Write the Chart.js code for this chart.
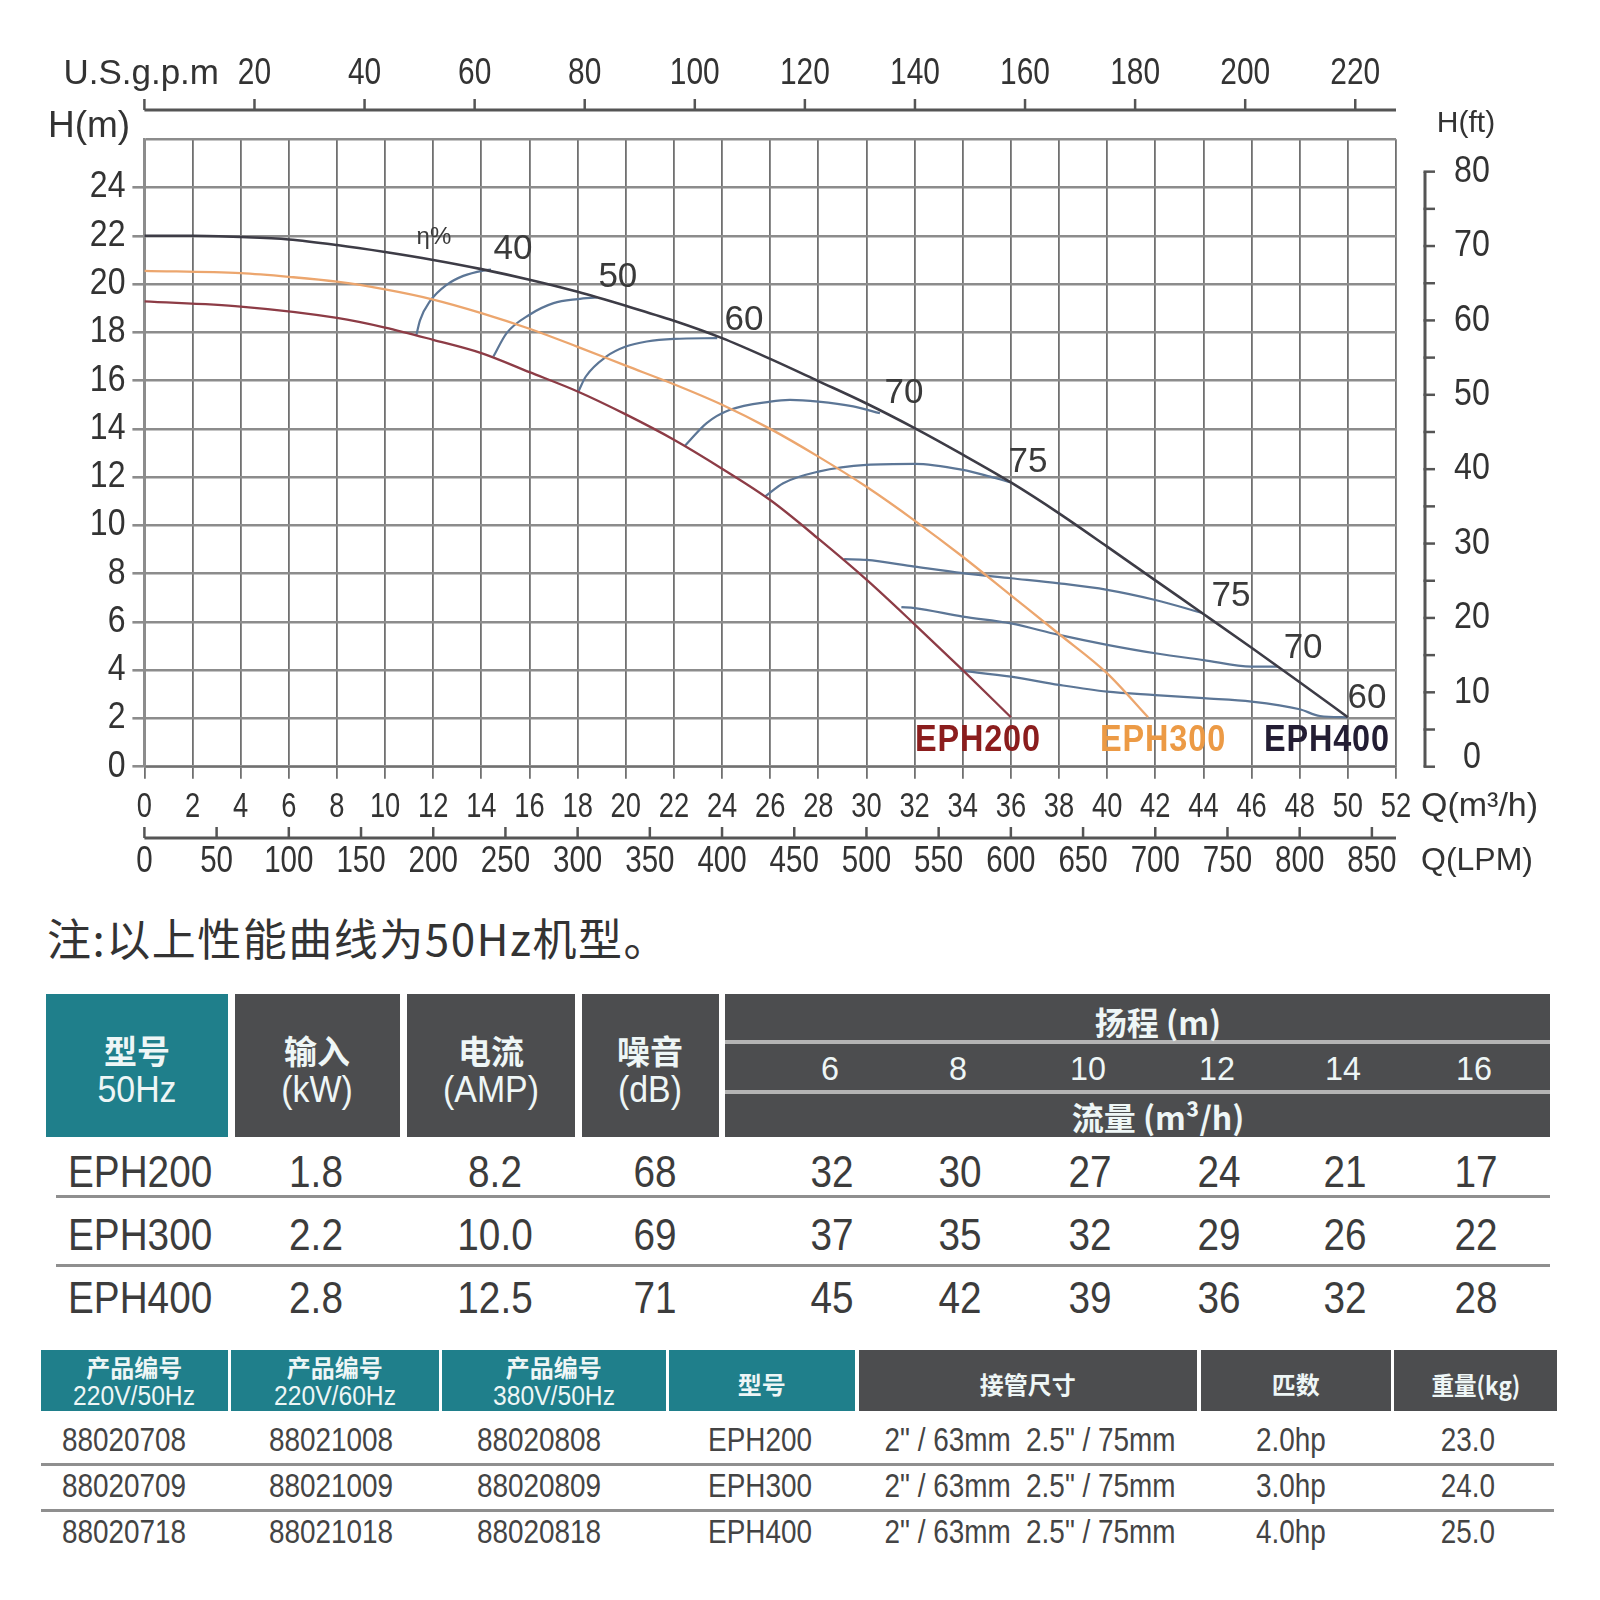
<!DOCTYPE html>
<html>
<head>
<meta charset="utf-8">
<script src="https://cdn.jsdelivr.net/npm/chart.js@4.4.1/dist/chart.umd.min.js"></script>
<style>
  body { margin: 0; background: #fff; }
  #wrap { position: relative; width: 1600px; height: 1600px; overflow: hidden; }
  #pump { position: absolute; left: 0; top: 0; }
  .t { position: absolute; white-space: pre; line-height: 1; }
  .c { position: absolute; }
</style>
</head>
<body>
<div id="wrap"><canvas id="pump" width="1600" height="890"></canvas></div>
<script>
// ---- curve data, Q in m3/h, H in m
const eph400Q = [0, 2, 4, 6, 8, 10, 12, 14, 16, 18, 20, 22, 24, 26, 28, 30, 32, 34, 36, 38, 40, 42, 44, 46, 48, 50];
const eph400H = [22.0, 22.0, 21.95, 21.85, 21.62, 21.33, 21.0, 20.62, 20.18, 19.68, 19.1, 18.48, 17.76, 16.9, 15.98, 15.05, 14.03, 12.93, 11.78, 10.5, 9.12, 7.72, 6.33, 4.93, 3.5, 2.05];
const eph300Q = [0, 4, 6, 8, 10, 12, 14, 16, 18, 20, 22, 24, 26, 28, 30, 32, 34, 36, 38, 40, 41.7];
const eph300H = [20.55, 20.45, 20.3, 20.1, 19.78, 19.36, 18.8, 18.15, 17.4, 16.62, 15.85, 15.0, 14.0, 12.85, 11.6, 10.2, 8.7, 7.1, 5.5, 3.87, 2.05];
const eph200Q = [0, 4, 8, 10, 12, 14, 16, 18, 20, 22, 24, 26, 28, 30, 32, 34, 36];
const eph200H = [19.28, 19.07, 18.6, 18.2, 17.69, 17.14, 16.35, 15.55, 14.6, 13.55, 12.35, 11.05, 9.45, 7.75, 5.9, 4.0, 2.05];

// efficiency lines
const eff40Q = [11.3, 11.45, 11.86, 12.56, 13.25, 14.08, 14.4];
const eff40H = [17.89, 18.5, 19.28, 19.97, 20.34, 20.56, 20.6];
const eff50Q = [14.5, 15.05, 16, 17, 18, 18.8];
const eff50H = [17.0, 17.97, 18.73, 19.21, 19.38, 19.45];
const eff60Q = [18.03, 18.34, 19.2, 20, 20.87, 22, 23.8];
const eff60H = [15.55, 16.17, 17.0, 17.41, 17.62, 17.73, 17.76];
const eff70Q = [22.46, 23.36, 24.33, 26, 26.82, 28, 29.45, 30.56];
const eff70H = [13.3, 14.24, 14.79, 15.13, 15.2, 15.13, 14.93, 14.65];
const eff75Q = [25.78, 26.54, 28, 30, 32, 34, 35.14, 36];
const eff75H = [11.19, 11.75, 12.23, 12.51, 12.55, 12.3, 12.02, 11.78];
const eff75bQ = [29.07, 30, 32, 34, 36, 38, 40, 42, 44];
const eff75bH = [8.6, 8.57, 8.29, 8.02, 7.81, 7.6, 7.33, 6.91, 6.36];
const eff70bQ = [31.45, 32, 34, 36, 38, 40, 42, 44, 46, 47.1];
const eff70bH = [6.61, 6.57, 6.22, 5.94, 5.46, 5.05, 4.7, 4.42, 4.15, 4.15];
const eff60bQ = [33.91, 36, 38, 40, 42, 44, 46, 48, 48.84, 50];
const eff60bH = [3.98, 3.73, 3.39, 3.11, 2.97, 2.84, 2.7, 2.38, 2.1, 2.05];

// labels on the curves: [text, Q, H]
const effLabels = [['η%', 12.03, 21.95], ['40', 15.31, 21.42], ['50', 19.67, 20.3], ['60', 24.91, 18.48],
  ['70', 31.56, 15.49], ['75', 36.71, 12.63], ['75', 45.14, 7.04], ['70', 48.14, 4.92], ['60', 50.79, 2.85]];
const modelLabels = [['EPH200', 34.63, 1.06, '#8b1d1d'], ['EPH300', 42.32, 1.06, '#ec9a45'], ['EPH400', 49.13, 1.06, '#231d33']];

// ---- tick labels
const flowTicksM3h = [0, 2, 4, 6, 8, 10, 12, 14, 16, 18, 20, 22, 24, 26, 28, 30, 32, 34, 36, 38, 40, 42, 44, 46, 48, 50, 52];
const headTicksM = [0, 2, 4, 6, 8, 10, 12, 14, 16, 18, 20, 22, 24, 26];
const gpmTicks = [0, 20, 40, 60, 80, 100, 120, 140, 160, 180, 200, 220];
const lpmTicks = [0, 50, 100, 150, 200, 250, 300, 350, 400, 450, 500, 550, 600, 650, 700, 750, 800, 850];
const ftTicks = [0, 5, 10, 15, 20, 25, 30, 35, 40, 45, 50, 55, 60, 65, 70, 75, 80];

// ---- table data
const models = ['EPH200', 'EPH300', 'EPH400'];
const inputKw = ['1.8', '2.2', '2.8'];
const currentAmp = ['8.2', '10.0', '12.5'];
const noiseDb = ['68', '69', '71'];
const headPoints = ['6', '8', '10', '12', '14', '16'];
const flowEPH200 = ['32', '30', '27', '24', '21', '17'];
const flowEPH300 = ['37', '35', '32', '29', '26', '22'];
const flowEPH400 = ['45', '42', '39', '36', '32', '28'];
const code220v50 = ['88020708', '88020709', '88020718'];
const code220v60 = ['88021008', '88021009', '88021018'];
const code380v50 = ['88020808', '88020809', '88020818'];
const pipeSize = ['2" / 63mm  2.5" / 75mm', '2" / 63mm  2.5" / 75mm', '2" / 63mm  2.5" / 75mm'];
const horsePower = ['2.0hp', '3.0hp', '4.0hp'];
const weightKg = ['23.0', '24.0', '25.0'];

const SANS = '"Liberation Sans", Arial, sans-serif';
const CJK = '"Noto Sans CJK SC", "Noto Sans", sans-serif';

const pts = (qs, hs) => qs.map((q, i) => ({ x: q, y: hs[i] }));
const curve = (qs, hs, color, w) => ({
  data: pts(qs, hs), borderColor: color, borderWidth: w, xAxisID: 'x', yAxisID: 'y',
  pointRadius: 0, fill: false, cubicInterpolationMode: 'monotone'
});
const EFF = '#5c7696';

const datasets = [
  curve(eph400Q, eph400H, '#3d3c46', 2.6),
  curve(eph300Q, eph300H, '#eca66e', 2.3),
  curve(eph200Q, eph200H, '#8d3c46', 2.3),
  curve(eff40Q, eff40H, EFF, 2.2),
  curve(eff50Q, eff50H, EFF, 2.2),
  curve(eff60Q, eff60H, EFF, 2.2),
  curve(eff70Q, eff70H, EFF, 2.2),
  curve(eff75Q, eff75H, EFF, 2.2),
  curve(eff75bQ, eff75bH, EFF, 2.2),
  curve(eff70bQ, eff70bH, EFF, 2.2),
  curve(eff60bQ, eff60bH, EFF, 2.2)
];

// tick labels, extra unit axes (gpm, LPM, ft) and text on the plot
const extraAxes = {
  id: 'extraAxes',
  afterDraw(chart) {
    const { ctx, chartArea: a, scales } = chart;
    const sx = scales.x, sy = scales.y, g = scales.xGpm, l = scales.xLpm, f = scales.yFt;
    const seg = (x1, y1, x2, y2) => { ctx.beginPath(); ctx.moveTo(x1, y1); ctx.lineTo(x2, y2); ctx.stroke(); };
    // squeezed text, the source uses a condensed face
    const sText = (s, x, y, k) => { ctx.save(); ctx.translate(x, y); ctx.scale(k, 1); ctx.fillText(s, 0, 0); ctx.restore(); };
    ctx.save();
    ctx.strokeStyle = '#555';
    ctx.fillStyle = '#333';
    ctx.textBaseline = 'middle';

    // m3/h and m tick labels
    ctx.textAlign = 'center';
    ctx.font = '35px ' + SANS;
    sx.ticks.forEach(t => sText(String(t.value), sx.getPixelForValue(t.value), 807, 0.78));
    ctx.textAlign = 'right';
    ctx.font = '36px ' + SANS;
    sy.ticks.filter(t => t.value < 26).forEach(t => sText(String(t.value), 125.5, sy.getPixelForValue(t.value), 0.89));

    // U.S.gpm on top
    ctx.lineWidth = 3;
    seg(a.left, 110, a.right, 110);
    ctx.lineWidth = 2.5;
    ctx.font = '36px ' + SANS;
    ctx.textAlign = 'center';
    gpmTicks.forEach(v => {
      const px = g.getPixelForValue(v);
      seg(px, 110, px, 99);
      if (v > 0) sText(String(v), px, 74, 0.83);
    });
    ctx.textAlign = 'right';
    ctx.font = '35px ' + SANS;
    ctx.fillText('U.S.g.p.m', 219, 74);

    // LPM at the bottom
    ctx.lineWidth = 3;
    seg(a.left, 838, a.right, 838);
    ctx.lineWidth = 2.5;
    ctx.textAlign = 'center';
    ctx.font = '36px ' + SANS;
    lpmTicks.forEach(v => {
      const px = l.getPixelForValue(v);
      seg(px, 838, px, 827);
      sText(String(v), px, 862, 0.82);
    });

    // H(ft) on the right
    const fx = 1425;
    ctx.lineWidth = 3;
    seg(fx, f.getPixelForValue(80), fx, f.getPixelForValue(0));
    ctx.lineWidth = 2.5;
    ctx.font = '37px ' + SANS;
    ftTicks.forEach(v => {
      const py = f.getPixelForValue(v);
      seg(fx - 1.5, py, fx + 10, py);
      if (v % 10 === 0) sText(String(v), 1472, v === 0 ? py - 9 : py, 0.87);
    });

    // axis titles
    ctx.font = '37px ' + SANS;
    ctx.textAlign = 'center';
    ctx.fillText('H(m)', 89, 127);
    ctx.font = '30px ' + SANS;
    ctx.fillText('H(ft)', 1466, 124);
    ctx.textAlign = 'left';
    ctx.font = '34px ' + SANS;
    ctx.fillText('Q(m³/h)', 1421, 807);
    ctx.font = '32px ' + SANS;
    ctx.fillText('Q(LPM)', 1421, 861);

    // efficiency labels
    ctx.textAlign = 'center';
    ctx.fillStyle = '#3a3a3a';
    effLabels.forEach(([t, q, h], i) => {
      ctx.font = (i === 0 ? '24px ' : '35px ') + SANS;
      ctx.fillText(t, sx.getPixelForValue(q), sy.getPixelForValue(h));
    });

    // model names
    ctx.font = 'bold 36px ' + SANS;
    ctx.letterSpacing = '1px';
    modelLabels.forEach(([t, q, h, c]) => {
      ctx.fillStyle = c;
      sText(t, sx.getPixelForValue(q), sy.getPixelForValue(h), 0.9);
    });
    ctx.restore();
  }
};

new Chart(document.getElementById('pump'), {
  type: 'line',
  data: { datasets },
  options: {
    responsive: false,
    animation: false,
    devicePixelRatio: 1,
    layout: { padding: { top: 139.3, right: 204, bottom: 0, left: 0 } },
    plugins: { legend: { display: false }, tooltip: { enabled: false } },
    scales: {
      x: {
        type: 'linear', position: 'bottom', min: 0, max: 52,
        afterBuildTicks: s => { s.ticks = flowTicksM3h.map(v => ({ value: v })); },
        afterFit: s => { s.height = 890 - 766.7; },
        grid: { color: '#707070', lineWidth: 1.8, tickLength: 12, tickWidth: 1.8 },
        border: { color: '#707070', width: 1.8 },
        ticks: { display: false }
      },
      y: {
        type: 'linear', position: 'left', min: 0, max: 26,
        afterBuildTicks: s => { s.ticks = headTicksM.map(v => ({ value: v })); },
        afterFit: s => { s.width = 144.4; },
        grid: {
          color: '#8c8c8c', lineWidth: 2.6, tickLength: 12, tickWidth: 2.6,
          tickColor: c => (c.tick && c.tick.value === 26 ? 'rgba(0,0,0,0)' : '#8c8c8c')
        },
        border: { color: '#8c8c8c', width: 2.6 },
        ticks: { display: false }
      },
      xGpm: { type: 'linear', axis: 'x', position: 'top', display: false, min: 0, max: 227.4 },
      xLpm: { type: 'linear', axis: 'x', position: 'bottom', display: false, min: 0, max: 866.7 },
      yFt: { type: 'linear', axis: 'y', position: 'right', display: false, min: 0, max: 84.35 }
    }
  },
  plugins: [extraAxes]
});

// ---- tables (HTML under the chart)
const wrap = document.getElementById('wrap');
function box(x1, y1, x2, y2, bg) {
  const d = document.createElement('div');
  d.className = 'c';
  Object.assign(d.style, { left: x1 + 'px', top: y1 + 'px', width: (x2 - x1) + 'px', height: (y2 - y1) + 'px', background: bg });
  wrap.appendChild(d);
}
// o: { k: horizontal squeeze, left: left aligned, weight, ls }
function txt(s, x, y, size, color, family, o = {}) {
  const d = document.createElement('div');
  d.className = 't';
  d.textContent = s;
  const k = o.k || 1;
  Object.assign(d.style, {
    left: x + 'px', top: y + 'px', fontSize: size + 'px', color, fontFamily: family,
    fontWeight: o.weight || 'normal', letterSpacing: o.ls || 'normal',
    transformOrigin: o.left ? 'left center' : 'center center',
    transform: (o.left ? 'translate(0,-50%)' : 'translate(-50%,-50%)') + ` scaleX(${k})`
  });
  wrap.appendChild(d);
}

txt('注:以上性能曲线为50Hz机型。', 47, 937, 44, '#333', CJK, { left: true, ls: '1.5px' });

const TEAL = '#1f7f8b', GRAY = '#4c4d4f', HEAD = '#eef6f6';
// table 1 header
box(46, 994, 228, 1137, TEAL);
box(235, 994, 400, 1137, GRAY);
box(407, 994, 575, 1137, GRAY);
box(582, 994, 719, 1137, GRAY);
box(725, 994, 1550, 1137, GRAY);
box(725, 1039.5, 1550, 1043.5, '#b4b4b4');
box(725, 1089.5, 1550, 1093.5, '#b4b4b4');
[['型号', '50Hz', 137], ['输入', '(kW)', 317], ['电流', '(AMP)', 491], ['噪音', '(dB)', 650]].forEach(([a, b, x]) => {
  txt(a, x, 1050, 33, HEAD, CJK, { weight: 700 });
  txt(b, x, 1090, 36, HEAD, SANS, { k: 0.94 });
});
txt('扬程 (m)', 1158, 1021, 32, HEAD, CJK, { weight: 700 });
txt('流量 (m³/h)', 1158, 1116, 32, HEAD, CJK, { weight: 700 });
const flowCols = [832, 960, 1090, 1219, 1345, 1476];
headPoints.forEach((h, i) => txt(h, flowCols[i] - 2, 1068, 34, HEAD, SANS, { k: 0.95 }));

// table 1 rows
const rowY1 = [1172, 1235, 1298];
const flows = [flowEPH200, flowEPH300, flowEPH400];
box(56, 1195, 1550, 1198, '#8f8f8f');
box(56, 1263.5, 1550, 1266.5, '#8f8f8f');
models.forEach((m, r) => {
  const y = rowY1[r], col = '#3c3c3c', fs = 44, k = 0.88;
  txt(m, 68, y, fs, col, SANS, { left: true, k });
  txt(inputKw[r], 316, y, fs, col, SANS, { k });
  txt(currentAmp[r], 495, y, fs, col, SANS, { k });
  txt(noiseDb[r], 655, y, fs, col, SANS, { k });
  flows[r].forEach((v, i) => txt(v, flowCols[i], y, fs, col, SANS, { k }));
});

// table 2 header
const cols2 = [[41, 227.5, TEAL], [230.6, 438.8, TEAL], [441.8, 665.8, TEAL], [668.9, 854.6, TEAL],
  [858.7, 1197, GRAY], [1200.5, 1390.8, GRAY], [1394.4, 1556.6, GRAY]];
cols2.forEach(([a, b, c]) => box(a, 1350, b, 1411, c));
const mid = i => (cols2[i][0] + cols2[i][1]) / 2;
[['产品编号', '220V/50Hz'], ['产品编号', '220V/60Hz'], ['产品编号', '380V/50Hz']].forEach(([a, b], i) => {
  txt(a, mid(i), 1367, 24, HEAD, CJK, { weight: 700 });
  txt(b, mid(i), 1396, 28, HEAD, SANS, { k: 0.88 });
});
txt('型号', mid(3), 1384, 24, HEAD, CJK, { weight: 700 });
txt('接管尺寸', mid(4), 1384, 24, HEAD, CJK, { weight: 700 });
txt('匹数', mid(5), 1384, 24, HEAD, CJK, { weight: 700 });
txt('重量(kg)', mid(6), 1384, 25, HEAD, CJK, { weight: 700, k: 0.9 });

// table 2 rows
const rowY2 = [1439, 1485, 1531];
const cols2X = [124, 331, 539, 760, 1030, 1291, 1468];
box(41, 1463, 1554, 1466, '#8f8f8f');
box(41, 1508.5, 1554, 1511.5, '#8f8f8f');
models.forEach((m, r) => {
  const vals = [code220v50[r], code220v60[r], code380v50[r], m, pipeSize[r], horsePower[r], weightKg[r]];
  vals.forEach((v, i) => txt(v, cols2X[i], rowY2[r], 34, '#444', SANS, { k: 0.82 }));
});
</script>
</body>
</html>
